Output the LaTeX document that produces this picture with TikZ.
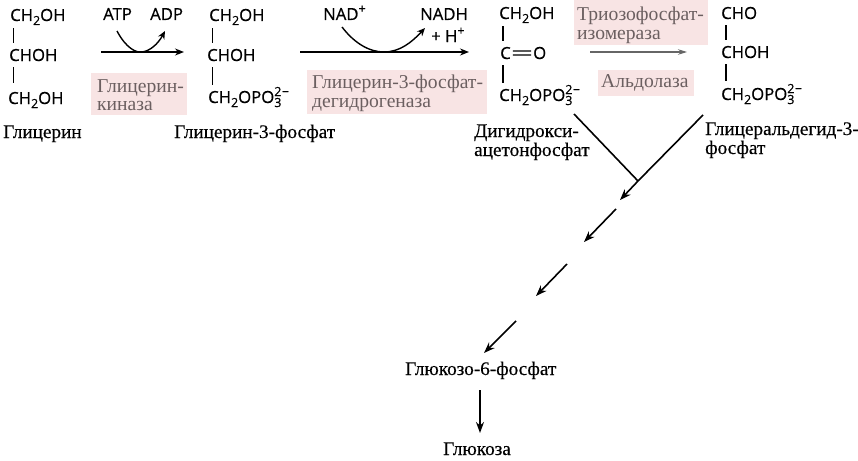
\documentclass[tikz,border=0pt]{standalone}
\usepackage{fontspec}
\setmainfont{Liberation Serif}
\newfontfamily\substfont{Liberation Serif}[FakeBold=0.35]
\newfontfamily\chemfont{Open Sans}[FakeBold=0.55]
\usetikzlibrary{arrows.meta,calc}
\newcommand{\csub}[1]{\raisebox{-4pt}{\fontsize{12.5}{12.5}\selectfont #1}}
\newcommand{\csup}[1]{\raisebox{7pt}{\fontsize{12.5}{12.5}\selectfont #1}}
\newcommand{\chtwooh}{CH\csub{2}OH}
\newcommand{\phos}{CH\csub{2}OPO\rlap{\csub{3}}\csup{2\kern0.5pt−}}
\definecolor{pinkbox}{HTML}{F8E4E4}
\definecolor{enztext}{HTML}{6B5F60}
\tikzset{
  chem/.style={anchor=base west,inner sep=0pt,font=\chemfont\fontsize{16.7}{16.7}\selectfont,text=black},
  subst/.style={anchor=base west,inner sep=0pt,font=\substfont\fontsize{19.2}{19.2}\selectfont,text=black},
  enz/.style={anchor=base west,inner sep=0pt,font=\fontsize{19.6}{19.6}\selectfont,text=enztext},
  bond/.style={draw=black,line width=1.3pt},
  arr/.style={draw=black,line width=1.4pt,-{Stealth[length=9pt,width=7pt]}},
  diagarr/.style={draw=black,line width=1.6pt,-{Stealth[length=11pt,width=8pt]}},
  curvearr/.style={draw=black,line width=1.4pt,-{Stealth[length=8pt,width=7pt]}},
  grayarr/.style={draw=black!60,line width=1.1pt,-{Stealth[length=9pt,width=5.5pt]}},
  mergeline/.style={line width=1.6pt,draw=black},
  pinkfill/.style={fill=pinkbox,draw=none}
}
\begin{document}
\begin{tikzpicture}[x=1pt,y=-1pt]
\useasboundingbox (0,0) rectangle (858,460);
% enzyme backgrounds
\fill[pinkfill] (91,73) rectangle (187,115);
\fill[pinkfill] (307,70) rectangle (487,114);
\fill[pinkfill] (574,0) rectangle (708,45);
\fill[pinkfill] (598,70) rectangle (694,96);
% glycerol
\node[chem] (a1) at (10,21) {\chtwooh};
\node[chem] (a2) at (9,61) {CHOH};
\node[chem] (a3) at (8,104) {\chtwooh};
\draw[bond] ([shift={(3.5,3)}]a1.south west) -- ([shift={(4.5,-6)}]a2.north west);
\draw[bond] ([shift={(4.5,6)}]a2.south west) -- ([shift={(5.5,-9)}]a3.north west);
\node[subst] (n1) at (3,138) {Глицерин};
% reaction 1
\node[chem] (atp) at (103,20) {ATP};
\node[chem] (adp) at (150,20) {ADP};
\coordinate (r1s) at (101,52);
\coordinate (r1e) at (184,52);
\draw[arr] (r1s) -- (r1e);
\coordinate (c1s) at (117,31);
\coordinate (c1e) at (165,31);
\draw[curvearr] (c1s) .. controls (126,48) and (136,53) .. (142,52) .. controls (150,51) and (158,44) .. (c1e);
\node[enz] (e1a) at (97,92) {Глицерин-};
\node[enz] (e1b) at (97,110) {киназа};
% G3P
\node[chem] (b1) at (209,21) {\chtwooh};
\node[chem] (b2) at (207,61) {CHOH};
\node[chem] (b3) at (208,103) {\phos};
\draw[bond] ([shift={(3.5,3)}]b1.south west) -- ([shift={(5.5,-6)}]b2.north west);
\draw[bond] ([shift={(5.5,6)}]b2.south west) -- ([shift={(4.5,-2)}]b3.north west);
\node[subst] (n2) at (174,138) {Глицерин-3-фосфат};
% reaction 2
\node[chem] (nad) at (323,20) {NAD\csup{+}};
\node[chem] (nadh) at (420,20) {NADH};
\node[chem] (hp) at (431,42) {+ H\csup{+}};
\coordinate (r2s) at (300,52);
\coordinate (r2e) at (469,52);
\draw[arr] (r2s) -- (r2e);
\coordinate (c2s) at (342,27);
\coordinate (c2e) at (425,28);
\draw[curvearr] (c2s) .. controls (355,44) and (370,52) .. (384,52) .. controls (400,52) and (412,42) .. (c2e);
\node[enz] (e2a) at (312,88) {Глицерин-3-фосфат-};
\node[enz] (e2b) at (312,107) {дегидрогеназа};
% DHAP
\node[chem] (c1) at (499,19) {\chtwooh};
\node[chem] (c2) at (500,59) {C};
\node[chem] (c2o) at (533,59) {O};
\node[chem] (c3) at (499,101) {\phos};
\draw[bond] ([shift={(4,3)}]c1.south west) -- ([shift={(3,-6)}]c2.north west);
\draw[bond] ([shift={(3,6)}]c2.south west) -- ([shift={(4,-2)}]c3.north west);
\draw[bond] ([shift={(2,-2)}]c2.east) -- ([shift={(-2,-2)}]c2o.west);
\draw[bond] ([shift={(2,2)}]c2.east) -- ([shift={(-2,2)}]c2o.west);
\node[subst] (n3a) at (474,137) {Дигидрокси-};
\node[subst] (n3b) at (474,156) {ацетонфосфат};
% isomerase
\node[enz] (e3a) at (577,21) {Триозофосфат-};
\node[enz] (e3b) at (577,40) {изомераза};
\coordinate (r3s) at (590,52);
\coordinate (r3e) at (687,52);
\draw[grayarr] (r3s) -- (r3e);
\node[enz] (e4) at (601,87) {Альдолаза};
% GAP
\node[chem] (d1) at (721,19) {CHO};
\node[chem] (d2) at (721,58) {CHOH};
\node[chem] (d3) at (721,100) {\phos};
\draw[bond] ([shift={(5,6)}]d1.south west) -- ([shift={(5,-6)}]d2.north west);
\draw[bond] ([shift={(5,6)}]d2.south west) -- ([shift={(5,-3)}]d3.north west);
\node[subst] (n4a) at (705,135) {Глицеральдегид-3-};
\node[subst] (n4b) at (705,154) {фосфат};
% merge and continuing arrows
\coordinate (m1) at (574,114);
\coordinate (m2) at (703,115);
\coordinate (mj) at (638,181);
\coordinate (s1e) at (620,200);
\draw[mergeline] (m1) -- (mj);
\draw[mergeline] (m2) -- (mj);
\draw[diagarr] (mj) -- (s1e);
\coordinate (s2s) at (616,209);
\coordinate (s2e) at (584,242);
\draw[diagarr] (s2s) -- (s2e);
\coordinate (s3s) at (567,264);
\coordinate (s3e) at (536,296);
\draw[diagarr] (s3s) -- (s3e);
\coordinate (s4s) at (516,321);
\coordinate (s4e) at (484,353);
\draw[diagarr] (s4s) -- (s4e);
% end
\node[subst] (g6p) at (405,375) {Глюкозо-6-фосфат};
\node[subst] (glu) at (443,455) {Глюкоза};
\coordinate (v1) at (480,390);
\coordinate (v2) at (480,433);
\draw[diagarr] (v1) -- (v2);
\end{tikzpicture}
\end{document}
